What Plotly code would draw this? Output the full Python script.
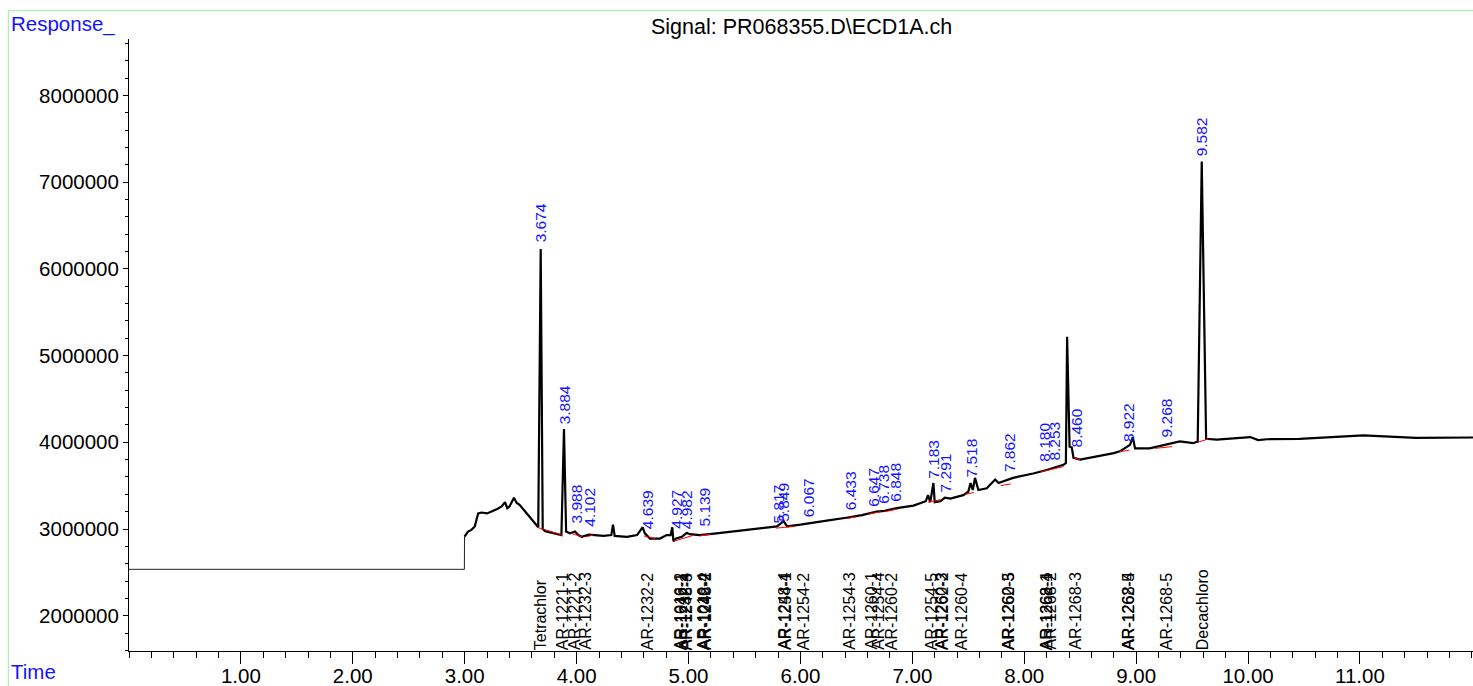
import plotly.graph_objects as go

# ---------------- data ----------------
# retention time (min) and detector response
time_min = [
    0.00, 2.997, 2.998, 3.03, 3.06, 3.09, 3.12, 3.15, 3.20, 3.24, 3.29, 3.33, 3.36, 3.38,
    3.40, 3.44, 3.465, 3.49, 3.54, 3.58, 3.63, 3.657, 3.679, 3.697, 3.72, 3.76, 3.80,
    3.864, 3.887, 3.906, 3.94, 3.986, 4.015, 4.045, 4.11, 4.18, 4.24, 4.31, 4.325, 4.34,
    4.45, 4.54, 4.56, 4.59, 4.61, 4.655, 4.745, 4.805, 4.84, 4.855, 4.865, 4.89, 4.94,
    4.985, 5.01, 5.10, 5.25, 5.40, 5.55, 5.70, 5.79, 5.85, 5.88, 6.00, 6.115, 6.25,
    6.41, 6.55, 6.68, 6.75, 6.86, 7.01, 7.12, 7.14, 7.16, 7.188, 7.20, 7.25, 7.29,
    7.34, 7.455, 7.50, 7.52, 7.54, 7.56, 7.59, 7.665, 7.74, 7.77, 7.90, 8.08, 8.20,
    8.35, 8.372, 8.383, 8.405, 8.425, 8.44, 8.50, 8.65, 8.80, 8.86, 8.945, 8.97, 8.99,
    9.12, 9.27, 9.39, 9.51, 9.55, 9.586, 9.625, 9.72, 10.02, 10.09, 10.17, 10.46,
    11.03, 11.50, 12.01,
]
response = [
    2535000, 2535000, 2913000, 2971000, 2990000, 3030000, 3180000, 3190000, 3180000,
    3200000, 3230000, 3260000, 3310000, 3240000, 3260000, 3360000, 3300000, 3280000,
    3200000, 3130000, 3050000, 3020000, 6228000, 3000000, 2975000, 2960000, 2945000,
    2930000, 4152000, 2970000, 2950000, 2970000, 2930000, 2910000, 2935000, 2930000,
    2920000, 2930000, 3050000, 2920000, 2910000, 2930000, 2970000, 3020000, 2950000,
    2890000, 2890000, 2930000, 2930000, 3020000, 2860000, 2890000, 2910000, 2955000,
    2940000, 2930000, 2950000, 2970000, 2990000, 3010000, 3030000, 3090000, 3030000,
    3050000, 3070000, 3100000, 3130000, 3160000, 3200000, 3210000, 3240000, 3270000,
    3320000, 3390000, 3310000, 3530000, 3310000, 3320000, 3360000, 3350000, 3390000,
    3430000, 3530000, 3450000, 3590000, 3450000, 3470000, 3570000, 3530000, 3590000,
    3640000, 3680000, 3740000, 3760000, 5217000, 3950000, 3940000, 3820000, 3800000,
    3840000, 3875000, 3900000, 3970000, 4060000, 3930000, 3930000, 3970000, 4010000,
    3990000, 4010000, 7239000, 4040000, 4030000, 4060000, 4025000, 4035000, 4040000,
    4080000, 4050000, 4055000,
]

# integration baselines (t0, v0, t1, v1)
baseline_segments = [
    (3.645, 3020000, 3.87, 2930000), (3.95, 2950000, 4.05, 2910000),
    (4.08, 2910000, 4.15, 2930000), (4.60, 2920000, 4.70, 2890000),
    (4.87, 2860000, 5.05, 2930000), (5.10, 2920000, 5.20, 2940000),
    (5.78, 3010000, 5.95, 3030000), (6.41, 3120000, 6.50, 3140000),
    (6.60, 3170000, 6.72, 3200000), (6.75, 3200000, 6.87, 3230000),
    (7.14, 3310000, 7.26, 3340000), (7.47, 3400000, 7.55, 3420000),
    (7.79, 3500000, 7.88, 3520000), (8.15, 3660000, 8.35, 3720000),
    (8.44, 3820000, 8.50, 3800000), (8.85, 3890000, 8.94, 3910000),
    (9.17, 3930000, 9.32, 3950000), (9.55, 4000000, 9.65, 4040000),
]

# retention-time labels (text, time, response at label foot)
rt_text = ["3.674", "3.884", "3.988", "4.102", "4.639", "4.927", "4.982", "5.139",
           "5.817", "5.849", "6.067", "6.433", "6.647", "6.738", "6.848", "7.183",
           "7.291", "7.518", "7.862", "8.180", "8.253", "8.460", "8.922", "9.268", "9.582"]
rt_time = [3.679, 3.887, 3.995, 4.113, 4.635, 4.89, 4.984, 5.139,
           5.80, 5.847, 6.071, 6.443, 6.651, 6.741, 6.854, 7.188,
           7.298, 7.531, 7.867, 8.186, 8.27, 8.469, 8.930, 9.273, 9.586]
rt_foot = [6297000, 4201000, 3047000, 3012000, 2989000, 2989000, 2989000, 3012000,
           3047000, 3070000, 3124000, 3200000, 3243000, 3278000, 3297000, 3566000,
           3413000, 3586000, 3643000, 3759000, 3777000, 3932000, 3989000, 4047000, 7289000]

# compound names (text, time)
cmp_text = ["Tetrachlor", "AR-1221-1", "AR-1221-2", "AR-1232-3", "AR-1232-2",
            "AR-1016-2", "AR-1242-1", "AR-1232-4", "AR-1248-3", "AR-1016-4", "AR-1242-2",
            "AR-1248-2", "AR-1248-4", "AR-1254-1", "AR-1254-2", "AR-1254-3", "AR-1260-1",
            "AR-1254-4", "AR-1260-2", "AR-1254-5", "AR-1260-3", "AR-1262-2", "AR-1260-4",
            "AR-1260-5", "AR-1262-3", "AR-1262-4", "AR-1268-1", "AR-1268-2", "AR-1268-3",
            "AR-1268-4", "AR-1262-5", "AR-1268-5", "Decachloro"]
cmp_time = [3.679, 3.876, 3.98, 4.075, 4.635,
            4.930, 4.940, 4.975, 4.985, 5.135, 5.140,
            5.150, 5.855, 5.865, 6.03, 6.437, 6.631,
            6.696, 6.816, 7.173, 7.260, 7.268, 7.441,
            7.855, 7.862, 8.198, 8.203, 8.231, 8.454,
            8.928, 8.933, 9.273, 9.595]

x_tick_vals = [1, 2, 3, 4, 5, 6, 7, 8, 9, 10, 11]
x_tick_text = ["1.00", "2.00", "3.00", "4.00", "5.00", "6.00", "7.00", "8.00", "9.00", "10.00", "11.00"]
y_tick_vals = [2000000, 3000000, 4000000, 5000000, 6000000, 7000000, 8000000]
y_tick_text = ["2000000", "3000000", "4000000", "5000000", "6000000", "7000000", "8000000"]

title_text = "Signal: PR068355.D\\ECD1A.ch"

# ---------------- figure ----------------
FONT = "Liberation Sans, Arial, sans-serif"
split = next(i for i, t in enumerate(time_min) if t >= 3.0)

fig = go.Figure()
fig.add_trace(go.Scatter(x=time_min[:split], y=response[:split], mode="lines",
                         line=dict(color="#202020", width=1), hoverinfo="skip"))
fig.add_trace(go.Scatter(x=time_min[split - 1:], y=response[split - 1:], mode="lines",
                         line=dict(color="black", width=2.2), hoverinfo="skip"))

bx, by = [], []
for t0, v0, t1, v1 in baseline_segments:
    bx += [t0, t1, None]
    by += [v0, v1, None]
fig.add_trace(go.Scatter(x=bx, y=by, mode="lines", line=dict(color="red", width=1),
                         hoverinfo="skip"))

annotations = []
for txt, t, v in zip(rt_text, rt_time, rt_foot):
    annotations.append(dict(x=t, y=v, xref="x", yref="y", text=txt, textangle=-90,
                            showarrow=False, xanchor="center", yanchor="bottom",
                            font=dict(family=FONT, size=15.5, color="#1414ff"),
                            borderpad=0))
for txt, t in zip(cmp_text, cmp_time):
    annotations.append(dict(x=t, y=0, xref="x", yref="paper", text=txt, textangle=-90,
                            showarrow=False, xanchor="center", yanchor="bottom",
                            font=dict(family=FONT, size=16, color="black"),
                            borderpad=0))

annotations.append(dict(x=0.5, y=1.020, xref="paper", yref="paper", text=title_text,
                        showarrow=False, xanchor="center", yanchor="middle",
                        font=dict(family=FONT, size=21.5, color="black")))
annotations.append(dict(x=-0.0895, y=1.025, xref="paper", yref="paper", text="Response_",
                        showarrow=False, xanchor="left", yanchor="middle",
                        font=dict(family=FONT, size=20.5, color="#1414ff")))
annotations.append(dict(x=-0.0895, y=-0.034, xref="paper", yref="paper", text="Time",
                        showarrow=False, xanchor="left", yanchor="middle",
                        font=dict(family=FONT, size=20.5, color="#1414ff")))

frame = "#98ec98"
shapes = [
    dict(type="line", xref="paper", yref="paper", x0=-0.0898, x1=-0.0898, y0=1.0463, y1=-0.07,
         line=dict(color=frame, width=1)),
    dict(type="line", xref="paper", yref="paper", x0=-0.0898, x1=1.0, y0=1.0463, y1=1.0463,
         line=dict(color=frame, width=1)),
]

fig.update_layout(
    width=1473, height=686,
    margin=dict(l=129, r=0, t=39, b=35),
    paper_bgcolor="white", plot_bgcolor="white",
    showlegend=False,
    annotations=annotations,
    shapes=shapes,
    font=dict(family=FONT, color="black"),
    xaxis=dict(range=[0, 12.01], automargin=False, showgrid=False, zeroline=False,
               showline=True, linecolor="black", linewidth=1, ticks="outside", ticklen=12,
               tickcolor="black", tickwidth=1, tickmode="array",
               tickvals=x_tick_vals, ticktext=x_tick_text, ticklabelstandoff=-6,
               tickfont=dict(family=FONT, size=20.5, color="black"),
               minor=dict(tickmode="linear", tick0=0, dtick=0.2, ticklen=6,
                          tickcolor="black", tickwidth=1, ticks="outside")),
    yaxis=dict(range=[1593000, 8651000], automargin=False, showgrid=False, zeroline=False,
               showline=True, linecolor="black", linewidth=1, ticks="outside", ticklen=5,
               tickcolor="black", tickwidth=1, tickmode="array",
               tickvals=y_tick_vals, ticktext=y_tick_text,
               tickfont=dict(family=FONT, size=20.5, color="black"),
               minor=dict(tickmode="linear", tick0=0, dtick=200000, ticklen=3,
                          tickcolor="black", tickwidth=1, ticks="outside")),
)

fig.write_html("out.html", config={"displayModeBar": False},
               post_script="document.body.style.margin='0';")
